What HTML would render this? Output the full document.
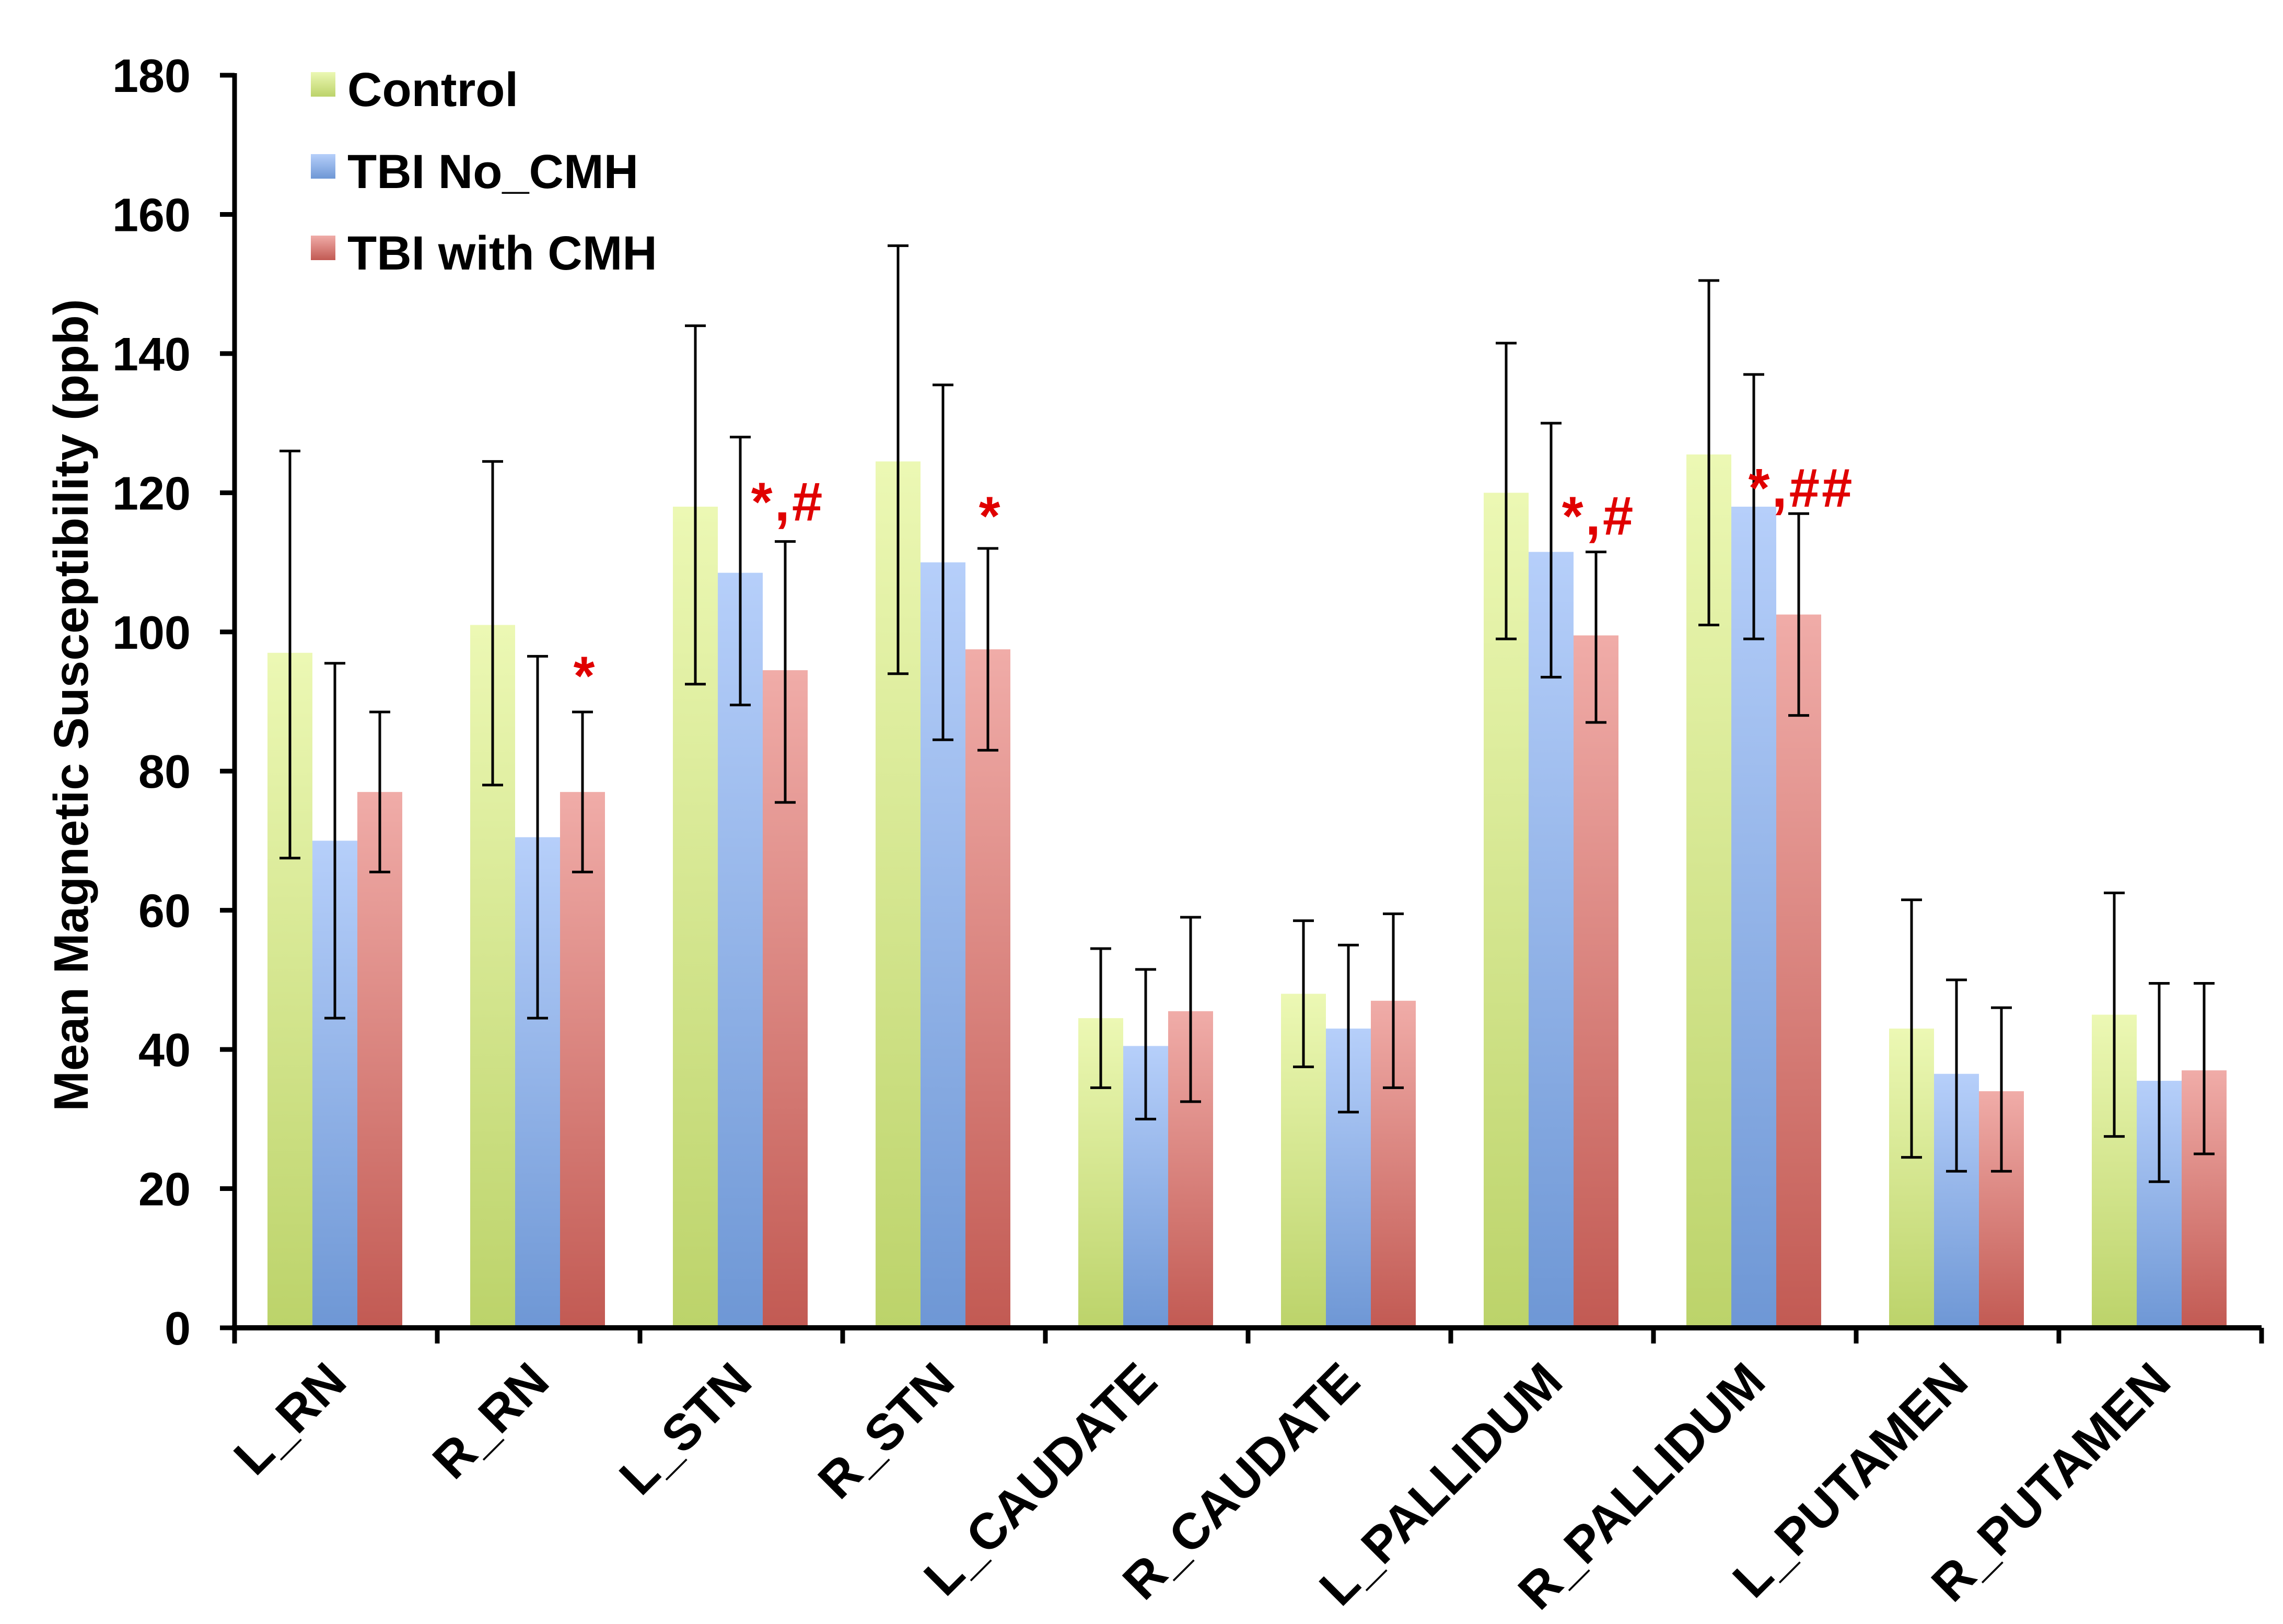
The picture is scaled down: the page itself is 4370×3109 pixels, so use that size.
<!DOCTYPE html>
<html><head><meta charset="utf-8"><style>
html,body{margin:0;padding:0;background:#fff}
svg{display:block}
text{font-family:"Liberation Sans",Arial,sans-serif;font-weight:bold}
</style></head><body>
<svg id="chart" width="4370" height="3109" viewBox="0 0 4370 3109" xmlns="http://www.w3.org/2000/svg">
<defs>
<linearGradient id="gC" x1="0" y1="0" x2="0" y2="1"><stop offset="0" stop-color="#ecf8b4"/><stop offset="1" stop-color="#bcd36a"/></linearGradient>
<linearGradient id="gB" x1="0" y1="0" x2="0" y2="1"><stop offset="0" stop-color="#b6cffa"/><stop offset="1" stop-color="#6e97d5"/></linearGradient>
<linearGradient id="gR" x1="0" y1="0" x2="0" y2="1"><stop offset="0" stop-color="#f0aca8"/><stop offset="1" stop-color="#c25a53"/></linearGradient>
</defs>
<g id="bars"></g>
<g id="axes"></g>
<g id="legend">
<rect x="595" y="138" width="47" height="47" fill="url(#gC)"/>
<text x="665" y="203" font-size="92">Control</text>
<rect x="595" y="295" width="47" height="47" fill="url(#gB)"/>
<text x="665" y="360" font-size="92">TBI No_CMH</text>
<rect x="595" y="451" width="47" height="47" fill="url(#gR)"/>
<text x="665" y="516" font-size="92">TBI with CMH</text>
</g>
<text transform="translate(168,1350) rotate(-90)" text-anchor="middle" font-size="93">Mean Magnetic Susceptibility (ppb)</text>
</svg>
<script>
const categories=["L_RN","R_RN","L_STN","R_STN","L_CAUDATE","R_CAUDATE","L_PALLIDUM","R_PALLIDUM","L_PUTAMEN","R_PUTAMEN"];
const controlMean=[97,101,118,124.5,44.5,48,120,125.5,43,45];
const controlLow=[67.5,78,92.5,94,34.5,37.5,99,101,24.5,27.5];
const controlHigh=[126,124.5,144,155.5,54.5,58.5,141.5,150.5,61.5,62.5];
const noCmhMean=[70,70.5,108.5,110,40.5,43,111.5,118,36.5,35.5];
const noCmhLow=[44.5,44.5,89.5,84.5,30,31,93.5,99,22.5,21];
const noCmhHigh=[95.5,96.5,128,135.5,51.5,55,130,137,50,49.5];
const cmhMean=[77,77,94.5,97.5,45.5,47,99.5,102.5,34,37];
const cmhLow=[65.5,65.5,75.5,83,32.5,34.5,87,88,22.5,25];
const cmhHigh=[88.5,88.5,113,112,59,59.5,111.5,117,46,49.5];
const sigLabels=["","*","*,#","*","","","*,#","*,##","",""];
const sigValues=[0,91,116,114,0,0,114,118,0,0];
const yTicks=[0,20,40,60,80,100,120,140,160,180];

const NS="http://www.w3.org/2000/svg";
const x0=449,groupW=388,y0=2542,yTop=144,yMax=180;
function yS(v){return y0-(v/yMax)*(y0-yTop);}
function xG(i){return x0+i*groupW;}
function mk(p,tag,attrs){const e=document.createElementNS(NS,tag);for(const k in attrs)e.setAttribute(k,attrs[k]);p.appendChild(e);return e;}
const bars=document.getElementById('bars'),axes=document.getElementById('axes'),svg=document.getElementById('chart');
const series=[[controlMean,controlLow,controlHigh,'url(#gC)','control'],[noCmhMean,noCmhLow,noCmhHigh,'url(#gB)','tbi-no-cmh'],[cmhMean,cmhLow,cmhHigh,'url(#gR)','tbi-with-cmh']];
const bw=86,off=63;
categories.forEach((c,i)=>{
  series.forEach((s,j)=>{
    const bx=xG(i)+off+j*bw;
    const r=mk(bars,'rect',{x:bx,y:yS(s[0][i]),width:bw,height:y0-yS(s[0][i]),fill:s[3]});
    
    
    const cx=bx+bw/2;
    const g=mk(bars,'g',{stroke:'#000','stroke-width':5});
    
    
    mk(g,'line',{x1:cx,x2:cx,y1:yS(s[1][i]),y2:yS(s[2][i])});
    mk(g,'line',{x1:cx-20,x2:cx+20,y1:yS(s[1][i]),y2:yS(s[1][i])});
    mk(g,'line',{x1:cx-20,x2:cx+20,y1:yS(s[2][i]),y2:yS(s[2][i])});
  });
  if(sigLabels[i]){
    const t=mk(svg,'text',{x:xG(i)+off+2*bw+bw/2+5,y:yS(sigValues[i]),'font-size':105,fill:'#e00000','text-anchor':'middle','letter-spacing':4});
    t.textContent=sigLabels[i];
    
    
  }
  const cx=xG(i)+groupW/2+25;
  const lt=mk(svg,'text',{transform:`translate(${cx},2650) rotate(-45)`,'text-anchor':'end','font-size':97});
  lt.textContent=c;
  
  
});
mk(axes,'line',{x1:x0,x2:x0,y1:yTop-4,y2:y0+5,stroke:'#000','stroke-width':9});
mk(axes,'line',{x1:x0-5,x2:x0+10*groupW,y1:y0,y2:y0,stroke:'#000','stroke-width':10});
yTicks.forEach(v=>{
  mk(axes,'line',{x1:x0-28,x2:x0,y1:yS(v),y2:yS(v),stroke:'#000','stroke-width':9});
  const t=mk(axes,'text',{x:365,y:yS(v)+32,'text-anchor':'end','font-size':90});
  t.textContent=v;
  
  
});
for(let i=0;i<=categories.length;i++){
  mk(axes,'line',{x1:xG(i),x2:xG(i),y1:y0,y2:y0+30,stroke:'#000','stroke-width':9});
}
</script>
</body></html>
